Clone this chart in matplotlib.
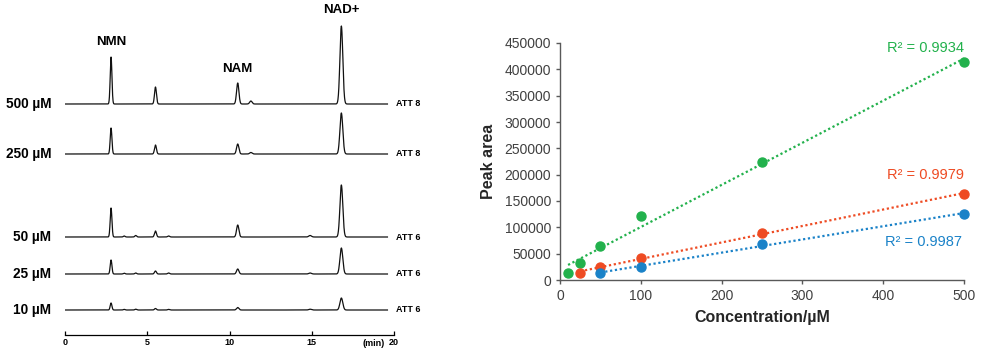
import numpy as np
import matplotlib
matplotlib.use('Agg')
import matplotlib.pyplot as plt

plt.rcParams['font.family'] = ['Liberation Sans', 'DejaVu Sans']

# chromatograms: peak retention times (min) and peak heights per sample
retention = [2.8, 3.6, 4.3, 5.5, 6.3, 10.5, 11.3, 14.9, 16.8]
samples = ['500 µM', '250 µM', '50 µM', '25 µM', '10 µM']
att = ['ATT 8', 'ATT 8', 'ATT 6', 'ATT 6', 'ATT 6']
heights = [
    [47, 0, 0, 17, 0, 21, 3, 0, 78],
    [26, 0, 0, 9, 0, 10, 1.5, 0, 41],
    [29, 1, 1.5, 6, 1, 12, 0, 1.5, 52],
    [14, 0.8, 1, 3, 1, 5, 0, 1, 26],
    [7, 0.6, 0.8, 1.5, 0.6, 2.5, 0, 0.8, 12],
]
peak_names = ['NMN', 'NAM', 'NAD+']
peak_name_rt = [2.8, 10.5, 16.8]

# calibration
conc_green = [10, 25, 50, 100, 250, 500]
area_green = [13300, 32900, 64000, 122000, 224600, 414500]
conc_red = [25, 50, 100, 250, 500]
area_red = [13300, 24700, 42400, 88600, 163900]
conc_blue = [50, 100, 250, 500]
area_blue = [13900, 25300, 67700, 125900]
r2_labels = ['R² = 0.9934', 'R² = 0.9979', 'R² = 0.9987']

fig = plt.figure(figsize=(9.82, 3.5), dpi=100)

# ---- left: chromatograms
ax1 = fig.add_axes([65 / 982, 15 / 350, 329 / 982, 335 / 350])
baselines = [231, 181, 98, 61, 25]
t = np.linspace(0, 19.6, 3000)
for name, a, base, h in zip(samples, att, baselines, heights):
    sig = base + np.zeros_like(t)
    for rt, hh in zip(retention, h):
        s = 0.045 + 0.0025 * rt
        sig += hh * np.exp(-0.5 * ((t - rt) / s) ** 2)
    ax1.plot(t, sig, color='#111111', lw=0.9)
    ax1.text(-0.85, base, name, ha='right', va='center', fontsize=9.8, fontweight='bold')
    ax1.text(20.1, base, a, ha='left', va='center', fontsize=6.5, fontweight='bold')

label_y = [293, 266, 325]
for name, rt, ly in zip(peak_names, peak_name_rt, label_y):
    ax1.text(rt, ly, name, ha='center', va='center', fontsize=9.5, fontweight='bold')

ax1.set_xlim(0, 20)
ax1.set_ylim(0, 335)
for sp in ['top', 'right', 'left']:
    ax1.spines[sp].set_visible(False)
ax1.spines['bottom'].set_linewidth(0.9)
ax1.set_yticks([])
ax1.set_xticks([0, 5, 10, 15, 20])
ax1.tick_params(axis='x', direction='in', length=3, width=0.9, labelsize=6.5, pad=2)
for lab in ax1.get_xticklabels():
    lab.set_fontweight('bold')
ax1.text(19.45, -4, '(min)', ha='right', va='top', fontsize=6.5, fontweight='bold')

# ---- right: calibration curves
ax2 = fig.add_axes([560 / 982, 70 / 350, 404 / 982, 237 / 350])
series = [
    (conc_green, area_green, '#22B14C'),
    (conc_red, area_red, '#EE4B23'),
    (conc_blue, area_blue, '#1A82C8'),
]
for (x, y, c) in series:
    x = np.array(x)
    y = np.array(y)
    k, b = np.polyfit(x, y, 1)
    xx = np.array([x.min(), x.max()])
    ax2.plot(xx, k * xx + b, ls=(0, (1, 1.2)), color=c, lw=1.6)
    ax2.plot(x, y, 'o', color=c, ms=6.5, clip_on=False, zorder=3)

ax2.text(500, 440000, r2_labels[0], color='#22B14C', ha='right', va='center', fontsize=10.5)
ax2.text(500, 200000, r2_labels[1], color='#EE4B23', ha='right', va='center', fontsize=10.5)
ax2.text(497, 72000, r2_labels[2], color='#1A82C8', ha='right', va='center', fontsize=10.5)

ax2.set_xlim(0, 500)
ax2.set_ylim(0, 450000)
ax2.set_xticks([0, 100, 200, 300, 400, 500])
ax2.set_yticks(np.arange(0, 450001, 50000))
for sp in ['top', 'right']:
    ax2.spines[sp].set_visible(False)
for sp in ['left', 'bottom']:
    ax2.spines[sp].set_color('#595959')
    ax2.spines[sp].set_linewidth(1.0)
ax2.tick_params(colors='#595959', labelcolor='#404040', labelsize=10, length=3, width=1.0)
ax2.set_xlabel('Concentration/µM', fontsize=11.5, fontweight='bold', color='#262626', labelpad=5)
ax2.set_ylabel('Peak area', fontsize=11.5, fontweight='bold', color='#262626', labelpad=6)

fig.savefig('out.png', dpi=100)
